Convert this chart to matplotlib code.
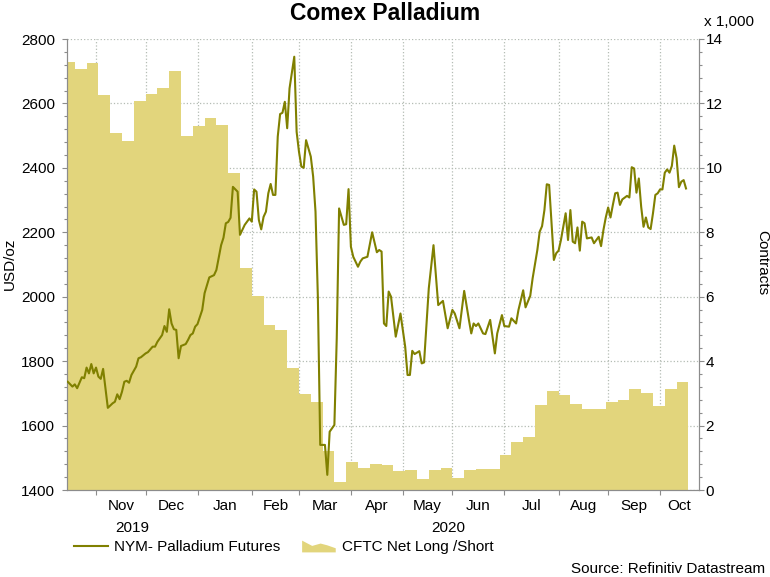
import numpy as np
import pandas as pd
import matplotlib
matplotlib.use("Agg")
import matplotlib.pyplot as plt
from matplotlib.lines import Line2D
from matplotlib.patches import Patch, Polygon
from matplotlib.legend_handler import HandlerPatch
from matplotlib.ticker import MultipleLocator, FixedLocator, NullFormatter, FixedFormatter

plt.rcParams['font.family'] = ['Liberation Sans', 'DejaVu Sans']

# x axis runs on business days (Datastream style)
AXIS_START = "2019-10-16"
AXIS_END = "2020-10-23"
CFTC_END = "2020-10-19"

price_dates = [
    "2019-10-16", "2019-10-18", "2019-10-21", "2019-10-22", "2019-10-24", "2019-10-25",
    "2019-10-28", "2019-10-29", "2019-10-30", "2019-10-31", "2019-11-01", "2019-11-04",
    "2019-11-05", "2019-11-06", "2019-11-08", "2019-11-12", "2019-11-13", "2019-11-14",
    "2019-11-15", "2019-11-18", "2019-11-19", "2019-11-20", "2019-11-21", "2019-11-22",
    "2019-11-26", "2019-11-27", "2019-11-28", "2019-12-02", "2019-12-03", "2019-12-05",
    "2019-12-06", "2019-12-09", "2019-12-11", "2019-12-12", "2019-12-13", "2019-12-16",
    "2019-12-17", "2019-12-18", "2019-12-19", "2019-12-20", "2019-12-23", "2019-12-24",
    "2019-12-25", "2019-12-26", "2019-12-27", "2019-12-30", "2019-12-31", "2020-01-01",
    "2020-01-03", "2020-01-06", "2020-01-08", "2020-01-10", "2020-01-13", "2020-01-15",
    "2020-01-16", "2020-01-17", "2020-01-20", "2020-01-21", "2020-01-22", "2020-01-24",
    "2020-01-27", "2020-01-29", "2020-01-31", "2020-02-03", "2020-02-04", "2020-02-05",
    "2020-02-06", "2020-02-07", "2020-02-10", "2020-02-11", "2020-02-12", "2020-02-13",
    "2020-02-14", "2020-02-17", "2020-02-18", "2020-02-19", "2020-02-20", "2020-02-21",
    "2020-02-24", "2020-02-25", "2020-02-27", "2020-02-28", "2020-03-02", "2020-03-03",
    "2020-03-04", "2020-03-05", "2020-03-09", "2020-03-10", "2020-03-11", "2020-03-12",
    "2020-03-13", "2020-03-17", "2020-03-18", "2020-03-19", "2020-03-23", "2020-03-24",
    "2020-03-25", "2020-03-27", "2020-03-30", "2020-03-31", "2020-04-01", "2020-04-02",
    "2020-04-06", "2020-04-07", "2020-04-08", "2020-04-10", "2020-04-14", "2020-04-16",
    "2020-04-17", "2020-04-20", "2020-04-21", "2020-04-22", "2020-04-23", "2020-04-24",
    "2020-04-28", "2020-04-30", "2020-05-04", "2020-05-05", "2020-05-06", "2020-05-07",
    "2020-05-08", "2020-05-12", "2020-05-13", "2020-05-14", "2020-05-18", "2020-05-20",
    "2020-05-22", "2020-05-26", "2020-05-28", "2020-06-01", "2020-06-02", "2020-06-04",
    "2020-06-08", "2020-06-10", "2020-06-11", "2020-06-12", "2020-06-15", "2020-06-16",
    "2020-06-18", "2020-06-19", "2020-06-23", "2020-06-25", "2020-06-26", "2020-06-30",
    "2020-07-01", "2020-07-03", "2020-07-06", "2020-07-08", "2020-07-09", "2020-07-13",
    "2020-07-14", "2020-07-16", "2020-07-17", "2020-07-21", "2020-07-22", "2020-07-23",
    "2020-07-24", "2020-07-27", "2020-07-28", "2020-07-30", "2020-07-31", "2020-08-03",
    "2020-08-04", "2020-08-06", "2020-08-07", "2020-08-10", "2020-08-11", "2020-08-12",
    "2020-08-13", "2020-08-14", "2020-08-17", "2020-08-18", "2020-08-19", "2020-08-21",
    "2020-08-24", "2020-08-26", "2020-08-27", "2020-08-28", "2020-08-31", "2020-09-01",
    "2020-09-02", "2020-09-03", "2020-09-04", "2020-09-07", "2020-09-08", "2020-09-09",
    "2020-09-11", "2020-09-14", "2020-09-15", "2020-09-16", "2020-09-17", "2020-09-18",
    "2020-09-21", "2020-09-22", "2020-09-23", "2020-09-24", "2020-09-25", "2020-09-28",
    "2020-09-29", "2020-09-30", "2020-10-01", "2020-10-02", "2020-10-05", "2020-10-06",
    "2020-10-07", "2020-10-08", "2020-10-09", "2020-10-12", "2020-10-13", "2020-10-14",
    "2020-10-15", "2020-10-16",
]

price_values = [
    1736, 1721, 1728, 1716, 1750, 1747,
    1780, 1762, 1791, 1762, 1780, 1752,
    1745, 1776, 1655, 1669, 1674, 1697,
    1682, 1705, 1736, 1739, 1733, 1757,
    1783, 1809, 1812, 1824, 1828, 1845,
    1845, 1860, 1881, 1909, 1891, 1961,
    1917, 1899, 1897, 1809, 1847, 1850,
    1853, 1866, 1881, 1886, 1907, 1915,
    1959, 2011, 2060, 2067, 2083, 2160,
    2183, 2228, 2232, 2245, 2341, 2326,
    2192, 2223, 2243, 2233, 2333, 2326,
    2238, 2209, 2248, 2264, 2321, 2350,
    2316, 2316, 2497, 2567, 2571, 2605,
    2523, 2647, 2745, 2512, 2450, 2404,
    2400, 2486, 2435, 2373, 2264, 1998,
    1540, 1540, 1447, 1581, 1602, 1871,
    2274, 2223, 2225, 2334, 2155, 2124,
    2093, 2109, 2119, 2124, 2200, 2138,
    2145, 2140, 1917, 1909, 2016, 2000,
    1876, 1948, 1845, 1757, 1757, 1832,
    1822, 1831, 1793, 1796, 2026, 2160,
    1974, 1987, 1902, 1959, 1948, 1902,
    2018, 1928, 1886, 1917, 1909, 1917,
    1886, 1884, 1928, 1824, 1886, 1943,
    1909, 1907, 1933, 1917, 1959, 2020,
    1967, 2003, 2057, 2145, 2202, 2219,
    2269, 2349, 2347, 2114, 2135, 2143,
    2176, 2259, 2176, 2269, 2171, 2166,
    2215, 2143, 2233, 2228, 2181, 2184,
    2166, 2186, 2157, 2207, 2246, 2277,
    2246, 2285, 2321, 2323, 2285, 2302,
    2313, 2308, 2402, 2398, 2323, 2367,
    2279, 2217, 2246, 2215, 2210, 2259,
    2316, 2321, 2333, 2333, 2385, 2395,
    2385, 2406, 2469, 2430, 2340, 2357,
    2362, 2336,
]

# CFTC net long/short, thousands of contracts, weekly
cftc_dates = pd.date_range("2019-10-14", periods=53, freq="W-MON")
cftc_values = [
    13.28, 13.07, 13.25, 12.27, 11.08, 10.83, 12.06, 12.30, 12.47, 13.01,
    10.99, 11.29, 11.55, 11.34, 9.83, 6.90, 6.02,
    5.13, 4.97, 3.78, 2.97, 2.74, 1.20, 0.26, 0.88, 0.68, 0.80,
    0.77, 0.59, 0.61, 0.33, 0.62, 0.67, 0.36, 0.62, 0.64, 0.65,
    1.09, 1.49, 1.65, 2.64, 3.07, 2.95, 2.67, 2.52, 2.52, 2.73,
    2.80, 3.13, 3.01, 2.61, 3.14, 3.35,
]

LINE = '#808000'
FILL = '#e2d57c'
GRID = '#b4bcb4'
SPINE = '#8c8c8c'
FS = 11


def bday_pos(dates):
    d = pd.to_datetime(dates).values.astype('datetime64[D]')
    return np.busday_count(np.datetime64(AXIS_START), d)


def area_icon(legend, orig_handle, xdescent, ydescent, width, height, fontsize):
    xs = np.array([0, 0, 0.3, 0.55, 0.75, 1, 1])
    ys = np.array([0, 1.0, 0.55, 0.75, 0.6, 0.35, 0])
    pts = np.column_stack([xs * width - xdescent, ys * height * 1.1 - ydescent - 1])
    return Polygon(pts, closed=True)


fig = plt.figure(figsize=(7.7, 5.77), dpi=100)
ax_c = fig.add_axes([67 / 770, 1 - 490 / 577, 632 / 770, 451 / 577])
ax_p = ax_c.twinx()

# contracts (area) on the lower axes, ticks on the right
cx = np.append(bday_pos(cftc_dates), bday_pos([CFTC_END])[0])
cy = np.append(cftc_values, cftc_values[-1])
ax_c.fill_between(cx, cy, step='post', color=FILL, lw=0, zorder=2)
ax_c.set_ylim(0, 14)
ax_c.yaxis.tick_right()
ax_c.yaxis.set_major_locator(MultipleLocator(2))
ax_c.yaxis.set_minor_locator(MultipleLocator(0.4))

# price line on the upper axes, ticks on the left
ax_p.plot(bday_pos(price_dates), price_values, color=LINE, lw=1.5, zorder=3)
ax_p.set_ylim(1400, 2800)
ax_p.yaxis.tick_left()
ax_p.yaxis.set_major_locator(MultipleLocator(200))
ax_p.yaxis.set_minor_locator(MultipleLocator(40))

# months
x_end = bday_pos([AXIS_END])[0] + 0.5
ax_c.set_xlim(-0.3, x_end)
month_starts = pd.date_range("2019-11-01", "2020-10-01", freq="MS")
mpos = bday_pos(month_starts)
bounds = np.append(mpos, x_end)
mid = (bounds[:-1] + bounds[1:]) / 2
ax_c.xaxis.set_major_locator(FixedLocator(mpos))
ax_c.xaxis.set_major_formatter(NullFormatter())
ax_c.xaxis.set_minor_locator(FixedLocator(mid))
ax_c.xaxis.set_minor_formatter(FixedFormatter([m.strftime('%b') for m in month_starts]))

year_edge = bday_pos(["2020-01-01"])[0]
for label, lo, hi in [("2019", -0.3, year_edge), ("2020", year_edge, x_end)]:
    ax_c.text((lo + hi) / 2, -37.5 / 451, label, transform=ax_c.get_xaxis_transform(),
              ha='center', va='center', fontsize=FS)

ax_c.set_axisbelow(True)
ax_c.grid(True, which='major', linestyle=':', color=GRID, lw=0.9)

for a in (ax_c, ax_p):
    a.spines['top'].set_visible(False)
    for s in ('left', 'right', 'bottom'):
        a.spines[s].set_color(SPINE)
ax_p.tick_params(axis='y', which='major', direction='out', length=3.6, width=0.8,
                 color=SPINE, labelsize=FS, pad=5)
ax_p.tick_params(axis='y', which='minor', direction='out', length=2, width=0.8, color=SPINE)
ax_c.tick_params(axis='y', which='major', direction='out', length=3.6, width=0.8,
                 color=SPINE, labelsize=FS, pad=1)
ax_c.tick_params(axis='y', which='minor', direction='out', length=2, width=0.8, color=SPINE)
ax_c.tick_params(axis='x', which='major', direction='out', length=3.6, width=0.8, color=SPINE)
ax_c.tick_params(axis='x', which='minor', length=0, labelsize=FS, pad=6.5)

fig.text(0.5, 1 - 13 / 577, "Comex Palladium", ha='center', va='center',
         fontsize=16.5, fontweight='bold')
fig.text(10 / 770, 1 - 264 / 577, "USD/oz", rotation=90, ha='center', va='center', fontsize=FS)
fig.text(762 / 770, 1 - 263 / 577, "Contracts", rotation=-90, ha='center', va='center', fontsize=FS)
fig.text(704 / 770, 1 - 22 / 577, "x 1,000", ha='left', va='center', fontsize=FS)
fig.text(765 / 770, 1 - 569 / 577, "Source: Refinitiv Datastream", ha='right', va='center', fontsize=FS)

handles = [Line2D([], [], color=LINE, lw=1.5), Patch(color=FILL, lw=0)]
fig.legend(handles, ["NYM- Palladium Futures", "CFTC Net Long /Short"],
           loc='center left', bbox_to_anchor=(74 / 770, 1 - 547 / 577), ncol=2,
           frameon=False, fontsize=FS, handlelength=2.2, handletextpad=0.4,
           columnspacing=1.45, borderpad=0, borderaxespad=0,
           handler_map={Patch: HandlerPatch(patch_func=area_icon)})

fig.savefig("out.png", dpi=100)
